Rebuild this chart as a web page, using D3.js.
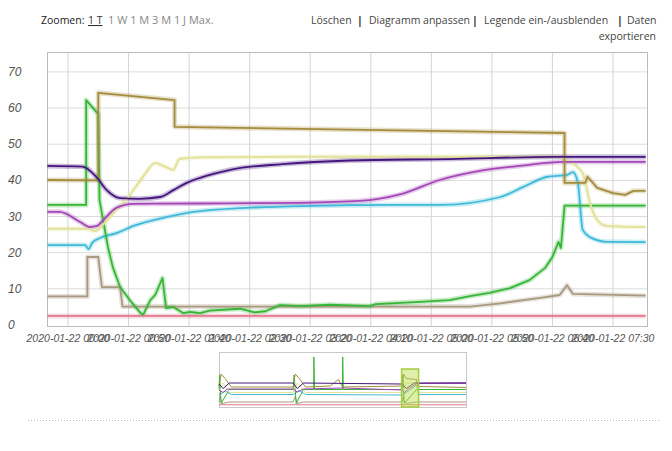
<!DOCTYPE html>
<html><head><meta charset="utf-8">
<script src="https://cdn.jsdelivr.net/npm/d3@7"></script>
<style>body{margin:0;background:#fff}svg{display:block}</style>
</head><body>
<svg id="c" width="672" height="451"></svg>
<script>
// ---------- data ----------
const tickLabels = ["2020-01-22 00:00","2020-01-22 00:50","2020-01-22 01:40","2020-01-22 02:30","2020-01-22 03:20",
  "2020-01-22 04:10","2020-01-22 05:00","2020-01-22 05:50","2020-01-22 06:40","2020-01-22 07:30"];
const yTicks = [0,10,20,30,40,50,60,70];

const seriesNames = ["purple","magenta","olive","yellow","cyan","green","gray","pink"];
const seriesColors = ["#45167e","#a447b6","#a48c3c","#e2e29c","#3fb9d8","#36b536","#a89a80","#e3788f"];

const purple = [["21 23:43",44.0],["22 00:12",43.8],["22 00:24",40.7],["22 00:32",37.3],["22 00:43",35.1],["22 00:59",34.9],
  ["22 01:16",35.4],["22 01:27",37.3],["22 01:38",39.3],["22 01:49",40.7],["22 02:15",43.0],["22 02:57",44.5],
  ["22 03:53",45.5],["22 05:15",45.9],["22 06:40",46.5],["22 07:57",46.5]];
const magenta = [["21 23:43",31.3],["21 23:53",31.3],["22 00:10",28.5],["22 00:18",27.1],["22 00:24",27.4],["22 00:29",29.0],
  ["22 00:40",32.4],["22 00:54",33.5],["22 01:49",33.6],["22 03:12",33.8],["22 04:01",34.3],["22 04:34",36.1],
  ["22 05:07",40.1],["22 05:40",42.6],["22 06:13",44.0],["22 06:49",45.1],["22 07:57",45.1]];
const olive = [["21 23:43",40.1],["22 00:25",40.0],["22 00:25",64.2],["22 01:28",62.2],["22 01:28",54.8],["22 06:50",53.1],
  ["22 06:50",39.3],["22 07:07",39.3],["22 07:09",41.0],["22 07:17",37.9],["22 07:30",36.5],["22 07:40",36.0],
  ["22 07:47",37.1],["22 07:57",37.1]];
const yellow = [["21 23:43",26.6],["22 00:16",26.6],["22 00:22",26.0],["22 00:31",28.5],["22 00:39",31.5],["22 00:49",35.1],
  ["22 01:02",41.0],["22 01:12",44.8],["22 01:20",43.8],["22 01:27",42.9],["22 01:32",45.9],["22 01:52",46.4],
  ["22 03:12",46.5],["22 06:46",46.5],["22 06:52",45.6],["22 07:05",42.0],["22 07:11",33.7],["22 07:17",29.0],
  ["22 07:25",27.4],["22 07:57",27.1]];
const cyan = [["21 23:43",22.1],["22 00:14",22.1],["22 00:17",21.0],["22 00:20",22.7],["22 00:26",24.0],["22 00:40",25.4],
  ["22 00:54",27.4],["22 01:22",29.9],["22 01:49",31.5],["22 03:12",32.9],["22 04:34",33.2],["22 05:07",33.2],
  ["22 05:57",35.4],["22 06:16",38.2],["22 06:36",41.0],["22 06:52",41.5],["22 06:57",42.3],["22 07:01",39.3],
  ["22 07:05",26.3],["22 07:11",24.3],["22 07:25",23.0],["22 07:57",22.9]];
const green = [["21 23:43",33.2],["22 00:15",33.2],["22 00:15",62.2],["22 00:25",58.3],["22 00:26",34.6],["22 00:29",29.0],
  ["22 00:33",21.5],["22 00:37",16.0],["22 00:43",10.5],["22 00:51",6.9],["22 01:00",3.3],["22 01:02",2.8],["22 01:08",6.9],
  ["22 01:12",8.3],["22 01:18",13.0],["22 01:21",4.7],["22 01:27",5.0],["22 01:35",3.3],["22 01:41",3.6],
  ["22 01:49",3.3],["22 01:57",4.0],["22 02:22",4.5],["22 02:34",3.5],["22 02:43",3.8],["22 02:55",5.5],
  ["22 03:12",5.2],["22 03:36",5.6],["22 04:09",5.2],["22 04:14",5.8],["22 04:51",6.4],["22 05:15",6.9],
  ["22 05:32",8.0],["22 05:48",8.9],["22 06:05",10.2],["22 06:21",12.4],["22 06:34",15.8],["22 06:40",18.8],
  ["22 06:45",23.0],["22 06:47",21.3],["22 06:50",33.0],["22 07:57",33.0]];
const gray = [["21 23:43",7.9],["22 00:16",7.9],["22 00:16",18.8],["22 00:25",18.8],["22 00:28",10.5],["22 00:43",10.5],
  ["22 00:45",5.1],["22 05:32",5.1],["22 05:57",6.0],["22 06:30",7.5],["22 06:46",8.3],["22 06:52",11.0],
  ["22 06:57",8.6],["22 07:57",8.1]];
const pink = [["21 23:43",2.5],["22 07:57",2.5]];

// overview (range selector), hours from start of overview
const ovPurple = [[0,44],[2,35],[5,46],[36,46],[38,35],[41,46],[89,44],[91,35],[95,46],[120,46.5]];
const ovMagenta = [[0,32],[2,27],[4,34],[36,34],[38,28],[41,34],[60,36],[89,32],[90,27],[92,34],[96,45],[120,45]];
const ovOlive = [[0,40],[1,64],[3,55],[6,38],[36,38],[37,64],[39,55],[42,38],[54,40],[58,53],[60,38],[89,40],[89.7,64],[91,55],[96,53],[96.5,39],[120,37]];
const ovYellow = [[0,27],[2,46],[5,27],[36,27],[38,46],[42,27],[89,27],[91,46],[96,46],[97,27],[120,27]];
const ovCyan = [[0,22],[3,30],[6,23],[36,23],[39,31],[42,23],[89,22],[92,30],[96,42],[97,23],[120,23]];
const ovGreen = [[0,33],[0.3,62],[1,5],[5,33],[36,33],[36.5,62],[37.5,5],[41,33],[46,33],[46.1,98],[46.4,33],[60,33],[60.1,98],[60.4,33],[89,33],[89.3,62],[90,5],[96,33],[120,33]];
const ovGray = [[0,8],[0.5,19],[1.5,5],[5,8],[36,8],[37,19],[38,5],[41,8],[89,8],[89.5,19],[90,10],[91,5],[96,8],[120,8]];
const ovPink = [[0,2.5],[120,2.5]];

// ---------- drawing ----------
const svg = d3.select("#c");
const parse = d3.timeParse("%Y-%m-%d %H:%M");
const P = s => parse("2020-01-" + s);
const L = {left:47, right:647, top:52, bottom:326};

const x = d3.scaleTime()
  .domain([new Date(2020,0,21,23,42,40), new Date(2020,0,22,7,58,5)])
  .range([L.left, L.right]);
const y = d3.scaleLinear().domain([0,75.5]).range([325,52]);

// header
const hdr = svg.append("g").style("font-family","'Open Sans', 'DejaVu Sans', sans-serif").style("font-size","10.5px");
hdr.append("text").attr("x",41).attr("y",24).attr("fill","#222").text("Zoomen:");
hdr.append("text").attr("x",88).attr("y",24).attr("fill","#333").style("text-decoration","underline").text("1 T");
hdr.append("text").attr("x",108).attr("y",24).attr("fill","#888").style("font-size","11px").text("1 W 1 M 3 M 1 J Max.");
const links = [["Löschen",311],["|",357],["Diagramm anpassen",369],["|",472],["Legende ein-/ausblenden",484],["|",617],["Daten",627]];
links.forEach(([t,px]) => hdr.append("text").attr("x",px).attr("y",24)
  .attr("fill", t==="|" ? "#222" : "#444").style("font-weight", t==="|" ? "bold":"normal").text(t));
hdr.append("text").attr("x",656).attr("y",40).attr("text-anchor","end").attr("fill","#444").text("exportieren");

// grid
const grid = svg.append("g");
grid.selectAll("line.h").data(yTicks.filter(v=>v>0)).join("line")
  .attr("x1",L.left).attr("x2",L.right).attr("y1",d=>y(d)).attr("y2",d=>y(d))
  .attr("stroke","#dcdcdc").attr("stroke-width",1);
const tickDates = tickLabels.map(parse);
grid.selectAll("line.v").data(tickDates).join("line")
  .attr("x1",d=>x(d)).attr("x2",d=>x(d)).attr("y1",L.top).attr("y2",L.bottom)
  .attr("stroke","#d4d4d4").attr("stroke-width",1);
svg.append("rect").attr("x",L.left+0.5).attr("y",L.top+0.5).attr("width",L.right-L.left).attr("height",L.bottom-L.top)
  .attr("fill","none").attr("stroke","#bbb");

// axes labels
const axFont = "'Liberation Sans', Arial, sans-serif";
svg.append("g").selectAll("text").data(yTicks).join("text")
  .attr("x",8).attr("y",d=>y(d)+4).attr("fill","#555").style("font-family",axFont)
  .style("font-size","12px").style("font-style","italic").text(d=>d);
svg.append("g").selectAll("text").data(tickDates).join("text")
  .attr("x",d=>x(d)).attr("y",342).attr("text-anchor","middle").attr("fill","#555")
  .style("font-family",axFont).style("font-size","10.5px").style("font-style","italic")
  .text((d,i)=>tickLabels[i]);

// lines (smooth curves for series without vertical steps)
const allSeries = [purple, magenta, olive, yellow, cyan, green, gray, pink];
const smooth = [true, true, false, true, true, false, false, false];
const mkLine = i => d3.line().x(d=>x(P(d[0]))).y(d=>y(d[1]))
  .curve(smooth[i] ? d3.curveMonotoneX : d3.curveLinear);
const drawOrder = [7,6,4,5,3,1,2,0];
const lg = svg.append("g");
drawOrder.forEach(i => {
  lg.append("path").attr("d",mkLine(i)(allSeries[i])).attr("fill","none")
    .attr("stroke",seriesColors[i]).attr("stroke-opacity",0.28).attr("stroke-width",5).attr("stroke-linejoin","round");
});
drawOrder.forEach(i => {
  lg.append("path").attr("d",mkLine(i)(allSeries[i])).attr("fill","none")
    .attr("stroke",seriesColors[i]).attr("stroke-width", i===3 ? 2 : 1.8).attr("stroke-linejoin","round");
});

// range selector
const ox = d3.scaleLinear().domain([0,120]).range([219,466]);
const oy = d3.scaleLinear().domain([0,100]).range([406,356]);
const ovStart = new Date(2020,0,18,7,0);
const hrs = dt => (dt - ovStart)/3600000;
const og = svg.append("g");
og.append("rect").attr("x",219.5).attr("y",352.5).attr("width",247).attr("height",55)
  .attr("fill","#fff").attr("stroke","#c8c8c8");
const ovSeries = [ovPurple, ovMagenta, ovOlive, ovYellow, ovCyan, ovGreen, ovGray, ovPink];
const oline = d3.line().x(d=>ox(d[0])).y(d=>oy(d[1]));
drawOrder.forEach(i => {
  og.append("path").attr("d",oline(ovSeries[i])).attr("fill","none")
    .attr("stroke",seriesColors[i]).attr("stroke-width",1);
});
const w0 = ox(hrs(x.domain()[0])), w1 = ox(hrs(x.domain()[1]));
og.append("rect").attr("x",w0).attr("y",369).attr("width",w1-w0).attr("height",38)
  .attr("fill","#b9dc45").attr("fill-opacity",0.45).attr("stroke","#a6cc3a").attr("stroke-width",1.5);

// bottom dotted rule
svg.append("line").attr("x1",28).attr("x2",660).attr("y1",420.5).attr("y2",420.5)
  .attr("stroke","#bbb").attr("stroke-dasharray","1,2");
</script>
</body></html>
